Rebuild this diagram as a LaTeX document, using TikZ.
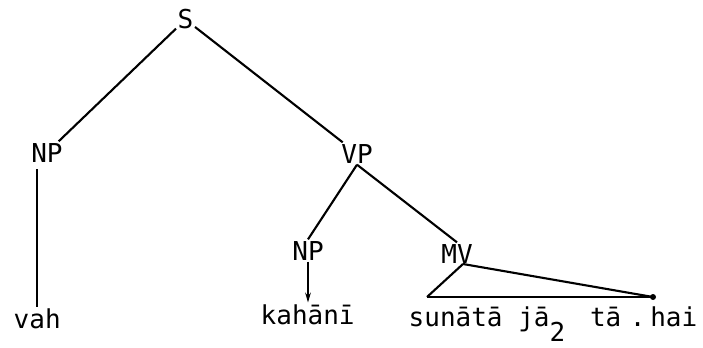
\documentclass[tikz,border=0pt]{standalone}
\usepackage{fontspec}
\setmonofont{DejaVu Sans Mono}
\usetikzlibrary{arrows.meta}

\begin{document}
\begin{tikzpicture}[x=0.025cm,y=-0.025cm,
  lbl/.style={inner sep=1pt,font=\ttfamily\fontsize{18.5}{22}\selectfont},
  branch/.style={line width=1.5pt}]
\useasboundingbox (0,0) rectangle (703,348);
% category labels
\node[lbl,anchor=base] (S) at (185.5,29) {S};
\node[lbl,anchor=base] (NPa) at (47,162) {NP};
\node[lbl,anchor=base] (VP) at (357,163) {VP};
\node[lbl,anchor=base] (NPb) at (308,260) {NP};
\node[lbl,anchor=base] (MV) at (457,263) {MV};
% words
\node[lbl,anchor=base west] (vah) at (12,328) {vah};
\node[lbl,anchor=base west] (kahani) at (259,324) {kahānī};
\node[lbl,anchor=base west] (sunata) at (407,326) {sunātā jā\raisebox{-0.6em}{2}\hspace{0.95em}tā\hspace{0.33em}.\hspace{0.18em}hai};
% branches
\draw[branch] (S) -- (NPa);
\draw[branch] (S) -- (VP);
\draw[branch] (VP.south) -- (NPb.north);
\draw[branch] (VP.south) -- (MV.north);
\draw[branch,shorten <=4pt] (vah.north |- NPa.south) -- (vah.north);
\draw[branch,-{Stealth[length=7pt,width=4pt]}] (NPb.south) -- (NPb.south |- kahani.north);
% triangle under MV
\coordinate (apex) at (463,264);
\coordinate (baseL) at (427,297);
\coordinate (baseR) at (653,297);
\draw[branch] (apex) -- (baseL);
\draw[branch] (apex) -- (baseR);
\draw[line width=2pt] (baseL) -- (baseR);
\fill (baseR) circle (3);
\end{tikzpicture}
\end{document}
